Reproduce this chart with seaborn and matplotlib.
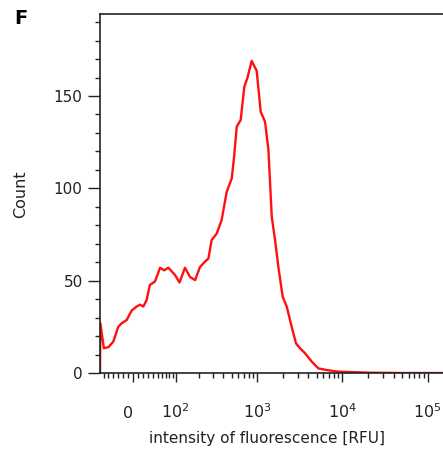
import seaborn as sns
import matplotlib.pyplot as plt
import matplotlib.transforms as mtransforms
import pandas as pd
from matplotlib.ticker import FixedLocator

# Histogram of fluorescence intensity
intensity = [-71, -70, -61, -50, -39, -28.6, -21.8, -12, -2.5, 6.9, 13.3, 19.8,
             26.4, 33, 44, 56, 66, 77.5, 98, 113, 134, 156, 181, 208, 240,
             264, 289, 333, 381, 437, 502, 535, 575, 640, 707, 768, 863, 989,
             1102, 1240, 1358, 1486, 1625, 1778, 1998, 2227, 2548, 2865, 3193,
             3654, 4374, 5240, 6565, 9000, 20000, 50000, 152000]
count = [0, 26.9, 13.4, 14, 17, 25, 26.9, 28.7, 33.8, 36, 37, 36,
         39.5, 47.7, 49.5, 57, 55.6, 57, 53, 49, 57, 52, 50.3, 57.4, 60.3,
         62, 72, 75.6, 82.9, 98, 105.4, 117, 133.4, 137, 155, 159.7, 169, 163.6,
         141.5, 136, 120.8, 84.7, 72, 57.4, 41.3, 36, 25, 16, 13.4,
         10.7, 6.2, 2.5, 1.6, 0.7, 0.2, 0, 0]

x_major = [0, 100, 1000, 10000, 100000]
x_labels = ['0', '$10^{2}$', '$10^{3}$', '$10^{4}$', '$10^{5}$']
y_major = [0, 50, 100, 150]

sns.set_style("ticks")
plt.rcParams['font.family'] = ['DejaVu Sans']
plt.rcParams['mathtext.default'] = 'regular'

fig = plt.figure(figsize=(4.43, 4.57), dpi=100)
ax = fig.add_axes([100 / 443, 84 / 457, 343 / 443, 359 / 457])

df = pd.DataFrame({'intensity': intensity, 'count': count})
sns.lineplot(data=df, x='intensity', y='count', color='#ff1010',
             linewidth=1.7, ax=ax)

ax.set_xscale('asinh', linear_width=70)
ax.set_xlim(-71, 152000)
ax.set_ylim(0, 194.4)

# ticks
x_minor = [-60, -50, -40, -30, -20, -10, 10, 20, 30, 40, 50, 60, 70, 80, 90]
for dec in [100, 1000, 10000]:
    x_minor += [k * dec for k in range(2, 10)]
ax.xaxis.set_major_locator(FixedLocator(x_major))
ax.xaxis.set_minor_locator(FixedLocator(x_minor))
ax.set_xticklabels(x_labels)
ax.yaxis.set_major_locator(FixedLocator(y_major))
ax.yaxis.set_minor_locator(FixedLocator([v for v in range(10, 200, 10) if v % 50]))

ax.tick_params(axis='x', which='major', length=6.5, width=1, pad=26,
               labelsize=11.5, colors='#222222')
ax.tick_params(axis='x', which='minor', length=3.5, width=1, colors='#222222')
ax.tick_params(axis='y', which='major', length=8.5, width=1, pad=4,
               labelsize=11, colors='#222222')
ax.tick_params(axis='y', which='minor', length=3.5, width=1, colors='#222222')
for lbl in ax.get_xticklabels():
    lbl.set_verticalalignment('baseline')
# the "0" label sits a little left of its tick in the reference
zero_lbl = ax.get_xticklabels()[0]
zero_lbl.set_transform(zero_lbl.get_transform() +
                       mtransforms.ScaledTranslation(-0.05, 0, fig.dpi_scale_trans))

ax.set_xlabel('')
ax.set_ylabel('')
for side in ['left', 'bottom', 'top']:
    ax.spines[side].set_color('#222222')
    ax.spines[side].set_linewidth(1.2)
ax.spines['right'].set_visible(False)

fig.text(267 / 443, 1 - 438 / 457, 'intensity of fluorescence [RFU]',
         ha='center', va='center', fontsize=11, color='#222222')
fig.text(21 / 443, 1 - 194 / 457, 'Count', rotation=90,
         ha='center', va='center', fontsize=11.5, color='#222222')
fig.text(14 / 443, 1 - 9 / 457, 'F', ha='left', va='top',
         fontsize=14, fontweight='bold', color='black')

fig.savefig('out.png', dpi=100)
